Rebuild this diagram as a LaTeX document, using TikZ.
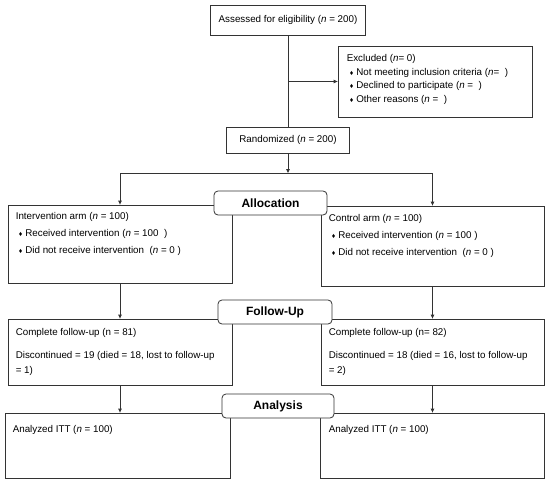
\documentclass[tikz,border=0pt]{standalone}
\usepackage{fontspec}
\setmainfont{Liberation Sans}
\usetikzlibrary{arrows.meta}
\newcommand{\nsym}{\textit{n}}
\newcommand{\flowbullet}{\hspace*{3pt}{\fontsize{7}{7}\selectfont ♦}\hspace{3pt}}

\begin{document}
\begin{tikzpicture}[x=1pt, y=-1pt]
% CONSORT flow chart, coordinates in pixels of the 550x479 sheet
\providecommand{\flowLineColor}{black!80}
\providecommand{\flowLineWidth}{0.8pt}
\providecommand{\flowStageRadius}{4pt}
\tikzset{
  flowbox/.style={draw=\flowLineColor, line width=\flowLineWidth, fill=white, inner sep=0pt,
    font=\fontsize{9.8}{11}\selectfont},
  stagebox/.style={flowbox, rounded corners=\flowStageRadius, minimum width=112pt, minimum height=24pt,
    font=\fontsize{12}{12}\selectfont\bfseries},
  boxtext/.style={anchor=north west, inner sep=0pt, align=left, font=\fontsize{9.8}{17}\selectfont},
  flowline/.style={draw=\flowLineColor, line width=\flowLineWidth},
  flowarrow/.style={flowline, -{Triangle[length=4pt,width=3.5pt]}},
}
\useasboundingbox (0,0) rectangle (550,479);
% Enrollment
\node[flowbox, minimum width=155pt, minimum height=30pt] (assess) at (288,20) {Assessed for eligibility (\nsym{} = 200)};
\node[flowbox, minimum width=194pt, minimum height=71pt] (excl) at (435,81.5) {};
\node[boxtext, font=\fontsize{9.8}{13.5}\selectfont] (excltext) at ([shift={(9,9)}]excl.north west)
  {Excluded (\nsym= 0)\\
   \flowbullet Not meeting inclusion criteria (\nsym=\ \ )\\
   \flowbullet Declined to participate (\nsym{} =\ \ )\\
   \flowbullet Other reasons (\nsym{} =\ \ )};
\node[flowbox, minimum width=123pt, minimum height=26pt] (rand) at (288,140) {Randomized (\nsym{} = 200)};
% Allocation
\node[flowbox, minimum width=224pt, minimum height=78pt] (int) at (120,244) {};
\node[boxtext] (inttext) at ([shift={(8,8)}]int.north west)
  {Intervention arm (\nsym{} = 100)\\
   \flowbullet Received intervention (\nsym{} = 100\ \ )\\
   \flowbullet Did not receive intervention\ \ (\nsym{} = 0 )};
\node[flowbox, minimum width=223pt, minimum height=80pt] (ctrl) at (432.5,246) {};
\node[boxtext] (ctrltext) at ([shift={(8,9)}]ctrl.north west)
  {Control arm (\nsym{} = 100)\\
   \flowbullet Received intervention (\nsym{} = 100 )\\
   \flowbullet Did not receive intervention\ \ (\nsym{} = 0 )};
% Follow-up
\node[flowbox, minimum width=224pt, minimum height=66pt] (compL) at (120,352) {};
\node[boxtext, font=\fontsize{9.8}{15}\selectfont] (compLtext) at ([shift={(8,10)}]compL.north west)
  {Complete follow-up (n = 81)\\[8pt]
   Discontinued = 19 (died = 18, lost to follow-up\\
   = 1)};
\node[flowbox, minimum width=223pt, minimum height=66pt] (compR) at (432.5,352) {};
\node[boxtext, font=\fontsize{9.8}{15}\selectfont] (compRtext) at ([shift={(8,10)}]compR.north west)
  {Complete follow-up (n= 82)\\[8pt]
   Discontinued = 18 (died = 16, lost to follow-up\\
   = 2)};
% Analysis
\node[flowbox, minimum width=225pt, minimum height=65pt] (anaL) at (117.5,445.5) {};
\node[boxtext] (anaLtext) at ([shift={(8,13)}]anaL.north west) {Analyzed ITT (\nsym{} = 100)};
\node[flowbox, minimum width=224pt, minimum height=65pt] (anaR) at (432,445.5) {};
\node[boxtext] (anaRtext) at ([shift={(9,13)}]anaR.north west) {Analyzed ITT (\nsym{} = 100)};
% Connectors
\coordinate (split) at (rand.south |- 0,173);
\draw[flowline] (assess.south) -- (rand.north);
\draw[flowarrow] (assess.south |- excl.west) -- (excl.west);
\draw[flowarrow] (rand.south) -- (split);
\draw[flowline] (split -| int.north) -- (split -| ctrl.north);
\draw[flowarrow] (split -| int.north) -- (int.north);
\draw[flowarrow] (split -| ctrl.north) -- (ctrl.north);
\draw[flowarrow] (int.south) -- (compL.north);
\draw[flowarrow] (ctrl.south) -- (compR.north);
\draw[flowarrow] (compL.south) -- (compL.south |- anaL.north);
\draw[flowarrow] (compR.south) -- (compR.south |- anaR.north);
% Stage labels
\node[stagebox, minimum width=113pt] (alloc) at (270.5,203) {Allocation};
\node[stagebox, minimum width=114pt] (fu) at (275,312) {Follow-Up};
\node[stagebox] (ana) at (278,406) {Analysis};
\end{tikzpicture}
\end{document}
